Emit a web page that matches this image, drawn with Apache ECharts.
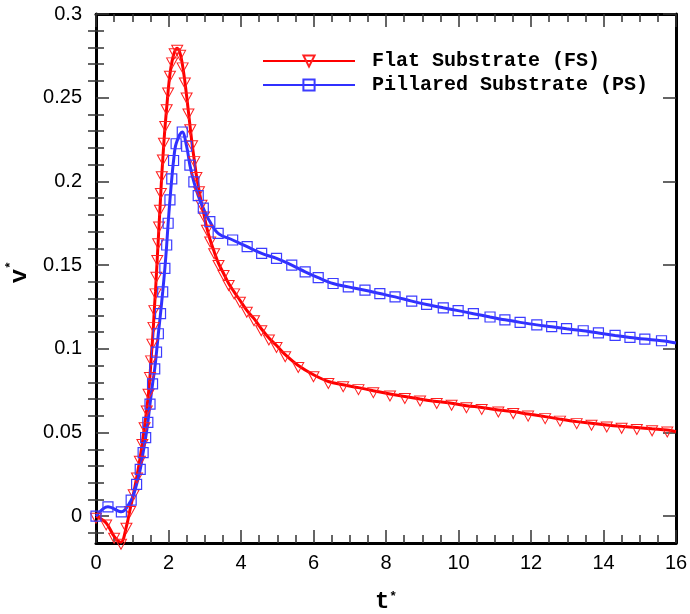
<!DOCTYPE html>
<html><head><meta charset="utf-8">
<script src="https://cdn.jsdelivr.net/npm/echarts@6/dist/echarts.min.js"></script>
<style>html,body{margin:0;padding:0;background:#fff}#c{width:690px;height:614px}</style>
</head><body><div id="c"></div>
<script>
// ---- data ----
const fsTime = [0, 0.28, 0.5, 0.69, 0.84, 0.94, 1.04, 1.13, 1.21, 1.28,
  1.34, 1.40, 1.45, 1.49, 1.52, 1.555, 1.585, 1.61, 1.64, 1.665,
  1.69, 1.715, 1.74, 1.765, 1.79, 1.815, 1.845, 1.875, 1.91, 1.95,
  1.99, 2.04, 2.10, 2.17, 2.24, 2.32, 2.39, 2.45, 2.50, 2.55,
  2.60, 2.65, 2.71, 2.77, 2.84, 2.91, 2.98, 3.06, 3.15, 3.26,
  3.38, 3.52, 3.66, 3.81, 3.97, 4.16, 4.36, 4.56, 4.77, 4.98,
  5.22, 5.58, 6.00, 6.41, 6.82, 7.24, 7.65, 8.11, 8.52, 8.94,
  9.40, 9.81, 10.22, 10.64, 11.10, 11.51, 11.92, 12.39, 12.80, 13.26,
  13.67, 14.09, 14.50, 14.92, 15.34, 15.76, 16];
const fsVel = [0, -0.004, -0.012, -0.0155, -0.006, 0.004, 0.014, 0.024, 0.034, 0.044,
  0.054, 0.064, 0.074, 0.084, 0.094, 0.104, 0.114, 0.124, 0.134, 0.144,
  0.154, 0.164, 0.174, 0.184, 0.194, 0.204, 0.214, 0.224, 0.234, 0.244,
  0.254, 0.264, 0.272, 0.2775, 0.2795, 0.2765, 0.269, 0.260, 0.251, 0.2415,
  0.232, 0.2225, 0.213, 0.2035, 0.195, 0.187, 0.180, 0.172, 0.165, 0.158,
  0.151, 0.145, 0.139, 0.134, 0.129, 0.123, 0.118, 0.112, 0.1065, 0.102,
  0.0965, 0.090, 0.0845, 0.0805, 0.0785, 0.0768, 0.075, 0.073, 0.0715, 0.070,
  0.0685, 0.0675, 0.066, 0.065, 0.0635, 0.0625, 0.061, 0.0595, 0.058, 0.0565,
  0.0555, 0.0545, 0.0537, 0.053, 0.0522, 0.0515, 0.0505];

const psTime = [0, 0.33, 0.70, 0.97, 1.12, 1.22, 1.30, 1.37, 1.43, 1.49,
  1.56, 1.62, 1.67, 1.72, 1.78, 1.84, 1.90, 1.95, 1.99, 2.04,
  2.09, 2.14, 2.21, 2.38, 2.50, 2.59, 2.70, 2.82, 2.96, 3.14,
  3.37, 3.77, 4.17, 4.57, 4.98, 5.40, 5.77, 6.13, 6.54, 6.96,
  7.42, 7.83, 8.25, 8.71, 9.12, 9.58, 9.99, 10.41, 10.87, 11.28,
  11.70, 12.16, 12.57, 12.98, 13.44, 13.86, 14.32, 14.73, 15.14, 15.60, 16];
const psVel = [0, 0.0056, 0.0026, 0.0096, 0.019, 0.028, 0.038, 0.047, 0.056, 0.067,
  0.079, 0.088, 0.098, 0.109, 0.121, 0.134, 0.148, 0.162, 0.175, 0.189,
  0.2015, 0.2125, 0.2225, 0.2295, 0.221, 0.2097, 0.1997, 0.1915, 0.184, 0.176,
  0.169, 0.165, 0.161, 0.157, 0.154, 0.150, 0.146, 0.1425, 0.139, 0.137,
  0.135, 0.133, 0.131, 0.1285, 0.1265, 0.1245, 0.1228, 0.121, 0.119, 0.1173,
  0.1158, 0.1143, 0.1132, 0.112, 0.1108, 0.1095, 0.108, 0.1068, 0.1058, 0.1048, 0.1035];

const seriesNames = ['Flat Substrate (FS)', 'Pillared Substrate (PS)'];
const yTicks = [0, 0.05, 0.1, 0.15, 0.2, 0.25, 0.3];
const yMinorTicks = [-0.01, 0.01, 0.02, 0.03, 0.04, 0.06, 0.07, 0.08, 0.09, 0.11, 0.12, 0.13, 0.14,
  0.16, 0.17, 0.18, 0.19, 0.21, 0.22, 0.23, 0.24, 0.26, 0.27, 0.28, 0.29];
const xMin = 0, xMax = 16, xStep = 2;
const yMin = -0.016, yMax = 0.3;

// ---- build ----
function pairs(ts, vs) {
  return ts.map((t, i) => i === ts.length - 1 ? { value: [t, vs[i]], symbol: 'none' } : [t, vs[i]]);
}
const labelFont = { fontFamily: 'Liberation Sans', fontSize: 20, color: '#000' };
const tickStyle = { color: '#333', width: 1.5 };
const frameLine = { show: true, onZero: false, lineStyle: { color: '#000', width: 3 } };
const titleRich = {
  m: { fontFamily: 'Liberation Mono', fontWeight: 'bold', fontSize: 24, color: '#000' },
  s: { fontFamily: 'Liberation Mono', fontWeight: 'bold', fontSize: 13, color: '#000', verticalAlign: 'top' }
};

function xAx(pos, showLabel) {
  return {
    type: 'value', position: pos, min: xMin, max: xMax, interval: xStep,
    axisLine: frameLine,
    axisTick: { show: true, inside: true, length: 13, lineStyle: tickStyle },
    minorTick: { show: true, splitNumber: 4, length: 8, lineStyle: tickStyle },
    axisLabel: Object.assign({ show: showLabel, margin: 10 }, labelFont),
    splitLine: { show: false }, minorSplitLine: { show: false }
  };
}
function yAx(pos, vals, len, showLine, showLabel) {
  return {
    type: 'value', position: pos, min: yMin, max: yMax,
    axisLine: showLine ? frameLine : { show: false },
    axisTick: { show: true, inside: true, length: len, customValues: vals, lineStyle: tickStyle },
    axisLabel: Object.assign({ show: showLabel, margin: 14, customValues: vals }, labelFont),
    splitLine: { show: false }
  };
}

const xAxes = [xAx('bottom', true), xAx('top', false)];
xAxes[0].name = '{m|t}{s|*}';
xAxes[0].nameLocation = 'middle';
xAxes[0].nameGap = 47;
xAxes[0].nameTextStyle = { rich: titleRich };

const yAxes = [yAx('left', yTicks, 13, true, true), yAx('right', yTicks, 13, true, false),
  yAx('left', yMinorTicks, 8, false, false), yAx('right', yMinorTicks, 8, false, false)];

const chart = echarts.init(document.getElementById('c'), null, { renderer: 'canvas' });
chart.setOption({
  animation: false,
  backgroundColor: '#fff',
  grid: { left: 96, top: 14, right: 14, bottom: 71, containLabel: false, outerBoundsMode: 'none' },
  legend: {
    data: seriesNames, orient: 'vertical', left: 257, top: 46,
    itemWidth: 92, itemHeight: 14, itemGap: 4,
    textStyle: { fontFamily: 'Liberation Mono', fontWeight: 'bold', fontSize: 20, color: '#000', padding: [0, 0, 0, 12] }
  },
  graphic: [{
    type: 'group', x: 20, y: 270, rotation: Math.PI / 2,
    children: [
      { type: 'text', x: -6, y: 0, style: { text: 'v', fontFamily: 'Liberation Mono', fontWeight: 'bold', fontSize: 24, fill: '#000', align: 'center', verticalAlign: 'middle' } },
      { type: 'text', x: 5, y: -9, style: { text: '*', fontFamily: 'Liberation Mono', fontWeight: 'bold', fontSize: 13, fill: '#000', align: 'center', verticalAlign: 'middle' } }
    ]
  }],
  xAxis: xAxes,
  yAxis: yAxes,
  series: [
    {
      name: seriesNames[0], type: 'line', xAxisIndex: 0, yAxisIndex: 0,
      data: pairs(fsTime, fsVel), smooth: 0.35,
      symbol: 'triangle', symbolSize: [11, 10], symbolRotate: 180, symbolOffset: [0, 2],
      lineStyle: { color: '#ff0000', width: 3 },
      itemStyle: { color: 'rgba(255,0,0,0)', borderColor: '#ff2020', borderWidth: 1 },
      emphasis: { disabled: true }
    },
    {
      name: seriesNames[1], type: 'line', xAxisIndex: 0, yAxisIndex: 0,
      data: pairs(psTime, psVel), smooth: 0.35,
      symbol: 'rect', symbolSize: 10,
      lineStyle: { color: '#3030ff', width: 3 },
      itemStyle: { color: 'rgba(0,0,255,0)', borderColor: '#3c3cff', borderWidth: 1.2 },
      emphasis: { disabled: true }
    }
  ]
});
</script></body></html>
